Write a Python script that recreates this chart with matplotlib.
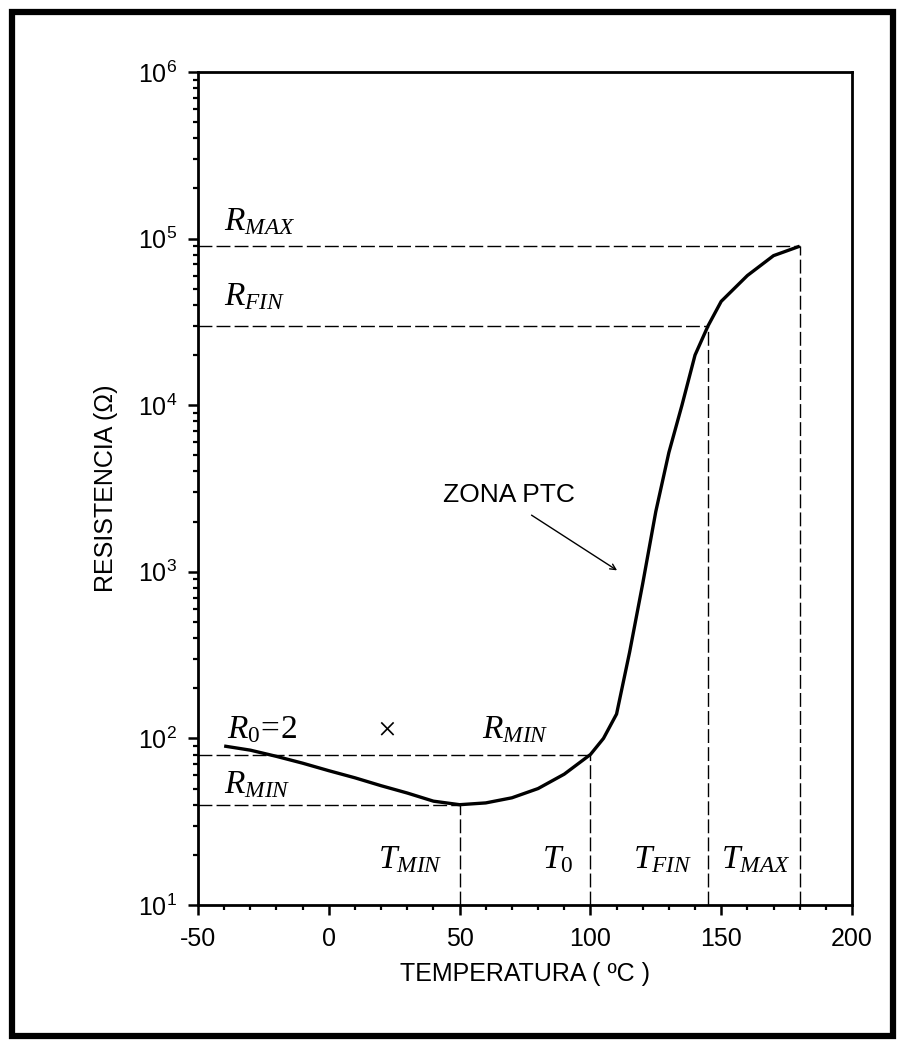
import numpy as np
from matplotlib import pyplot as plt
from matplotlib.ticker import MultipleLocator, LogLocator, NullFormatter, LogFormatterMathtext
from matplotlib.patches import Rectangle

plt.rcParams["font.family"] = ["Liberation Sans", "DejaVu Sans"]
plt.rcParams["mathtext.fontset"] = "custom"
plt.rcParams["mathtext.it"] = "Liberation Serif:italic"
plt.rcParams["mathtext.rm"] = "Liberation Serif"
plt.rcParams["axes.unicode_minus"] = False

# curva PTC
temp = [-40, -30, -20, -10, 0, 10, 20, 30, 40, 50, 60, 70, 80, 90, 100,
        105, 110, 115, 120, 125, 130, 135, 140, 145, 150, 160, 170, 180]
resist = [90, 85, 78, 71, 64, 58, 52, 47, 42, 40, 41, 44, 50, 61, 80,
          100, 140, 330, 850, 2300, 5200, 10000, 20000, 30000, 42000, 60000, 79000, 90000]

# puntos caracteristicos
t_min, r_min = 50, 40
t_0, r_0 = 100, 80
t_fin, r_fin = 145, 30000
t_max, r_max = 180, 90000

fig = plt.figure(figsize=(9.06, 10.43), dpi=100)
ax = fig.add_axes([198/906, 1 - 905/1043, 654/906, 833/1043])

ax.plot(temp, resist, color="black", lw=2.4, solid_capstyle="butt")

dash = dict(color="black", lw=1.0, ls=(0, (10, 3)))
for t, r in [(t_min, r_min), (t_0, r_0), (t_fin, r_fin), (t_max, r_max)]:
    ax.plot([-50, t], [r, r], **dash)
    ax.plot([t, t], [10, r], **dash)

ax.set_yscale("log")
ax.set_xlim(-50, 200)
ax.set_ylim(10, 1e6)
ax.xaxis.set_major_locator(MultipleLocator(50))
ax.xaxis.set_minor_locator(MultipleLocator(10))
ax.yaxis.set_major_locator(LogLocator(base=10))
ax.yaxis.set_minor_locator(LogLocator(base=10, subs=np.arange(2, 10)))
ax.yaxis.set_major_formatter(LogFormatterMathtext())
ax.yaxis.set_minor_formatter(NullFormatter())

for s in ax.spines.values():
    s.set_linewidth(2.0)
ax.tick_params(which="major", direction="out", length=7, width=1.8, labelsize=18)
ax.tick_params(which="minor", direction="out", length=3.5, width=1.6)
ax.tick_params(axis="x", which="major", pad=9)
ax.tick_params(axis="y", which="major", pad=8)

ax.set_xlabel("TEMPERATURA ( ºC )", fontsize=18, labelpad=8)
ax.set_ylabel("RESISTENCIA (Ω)", fontsize=18, labelpad=14)

lab = dict(fontsize=24, color="black")
ax.text(-40, 10**5.1, r"$R_{MAX}$", va="center", **lab)
ax.text(-40, 10**4.65, r"$R_{FIN}$", va="center", **lab)
ax.text(-39, 10**2.05, r"$R_{\mathit{0}}\!=\!2$", va="center", **lab)
ax.text(22, 10**2.05, r"$\times$", ha="center", va="center", **lab)
ax.text(58.5, 10**2.05, r"$R_{MIN}$", va="center", **lab)
ax.text(-40, 10**1.72, r"$R_{MIN}$", va="center", **lab)
ax.text(43.5, 10**1.27, r"$T_{MIN}$", ha="right", va="center", **lab)
ax.text(93.5, 10**1.27, r"$T_{\mathit{0}}$", ha="right", va="center", **lab)
ax.text(139, 10**1.27, r"$T_{FIN}$", ha="right", va="center", **lab)
ax.text(176.5, 10**1.27, r"$T_{MAX}$", ha="right", va="center", **lab)

ax.text(43.7, 10**3.46, "ZONA PTC", fontsize=19, va="center", ha="left")
ax.annotate("", xy=(110.2, 1020), xytext=(77.5, 10**3.34),
            arrowprops=dict(arrowstyle="->", color="black", lw=1.0,
                            shrinkA=0, shrinkB=0))

fig.patches.append(Rectangle((12/906, 1 - 1036/1043), 881/906, 1024/1043,
                             transform=fig.transFigure, fill=False,
                             edgecolor="black", lw=4.5))

fig.savefig("out.png", dpi=100)
